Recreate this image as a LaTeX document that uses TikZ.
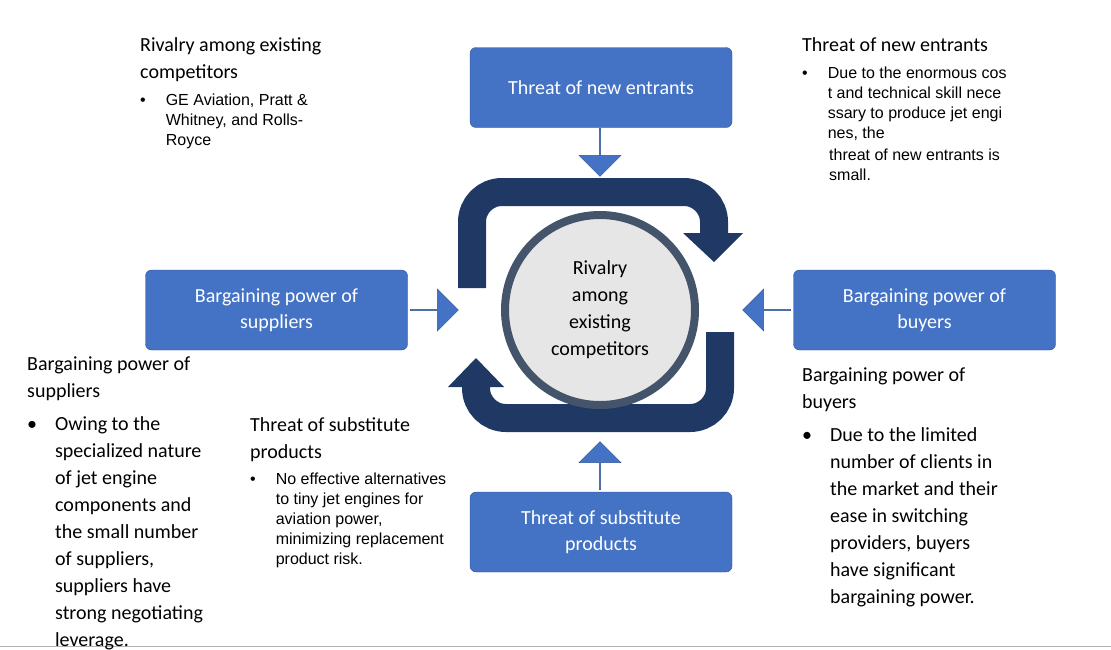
\documentclass[tikz,border=0pt]{standalone}
\usepackage{fontspec}
\setmainfont{Carlito}
\newfontfamily\arialf{Liberation Sans}
\usetikzlibrary{shapes.arrows}
\definecolor{bx}{HTML}{4472C4}
\definecolor{bxd}{HTML}{2F528F}
\definecolor{nv}{HTML}{1F3864}
\definecolor{cg}{HTML}{44546A}
\definecolor{cf}{HTML}{E7E6E6}
\begin{document}
\begin{tikzpicture}[x=1pt,y=-1pt,
 box/.style={draw=bxd,fill=bx,rounded corners=6pt,minimum width=262pt,minimum height=80pt,text=white,font=\fontsize{20}{26}\selectfont,align=center},
 barr/.style={draw=bxd,fill=bx,single arrow,single arrow head extend=6pt,minimum height=48pt,minimum width=42pt,inner sep=0pt,single arrow tip angle=90},
 lbl/.style={anchor=north west,align=left,inner sep=0pt,font=\fontsize{20}{27}\selectfont},
 curv/.style={line width=28pt,draw=nv,rounded corners=30pt}]
\useasboundingbox (0,0) rectangle (1111,649);
\draw[gray!60] (0,646) -- (1111,646);
\node[box] (ne) at (601,87.5) {Threat of new entrants};
\node[box] (sp) at (276.5,310) {Bargaining power of\\suppliers};
\node[box] (by) at (924.5,310) {Bargaining power of\\buyers};
\node[box] (ts) at (601,532) {Threat of substitute\\products};
\node[barr,shape border rotate=270] (a1) at (600,152) {};
\node[barr,shape border rotate=0] (a2) at (434,310) {};
\node[barr,shape border rotate=180] (a3) at (767,310) {};
\node[barr,shape border rotate=90] (a4) at (600,466) {};
\draw[curv] (472,288) -- (472,192) -- (714,192) -- (714,234);
\fill[nv] (683,233) -- (743,233) -- (714,262) -- cycle;
\draw[curv] (720,332) -- (720,418) -- (476,418) -- (476,386);
\fill[nv] (448,387) -- (504,387) -- (476,358) -- cycle;
\node[circle,draw=cg,line width=8pt,fill=cf,minimum size=190pt,align=center,font=\fontsize{20}{27}\selectfont] (c) at (600,310) {Rivalry\\among\\existing\\competitors};
\node[lbl] (t1) at (140,37) {Rivalry among existing\\competitors};
\node[anchor=north west,inner sep=0pt,font=\arialf\fontsize{16}{20}\selectfont] (b1) at (140,91) {\textbullet\hspace{20pt}\begin{tabular}[t]{@{}l@{}}GE Aviation, Pratt \&\\Whitney, and Rolls-\\Royce\end{tabular}};
\node[lbl] (t2) at (802,37) {Threat of new entrants};
\node[anchor=north west,inner sep=0pt,font=\arialf\fontsize{16}{20}\selectfont] (b2) at (802,64) {\textbullet\hspace{20pt}\begin{tabular}[t]{@{}l@{}}Due to the enormous cos\\t and technical skill nece\\ssary to produce jet engi\\nes, the\end{tabular}};
\node[anchor=north west,inner sep=0pt,font=\arialf\fontsize{16}{20}\selectfont] (b2b) at (829,146) {\begin{tabular}[t]{@{}l@{}}threat of new entrants is\\small.\end{tabular}};
\node[lbl] (t3) at (27,357) {Bargaining power of\\suppliers};
\node[anchor=north west,inner sep=0pt,font=\fontsize{20}{27}\selectfont] (b3) at (27,411) {\textbullet\hspace{18pt}\begin{tabular}[t]{@{}l@{}}Owing to the\\specialized nature\\of jet engine\\components and\\the small number\\of suppliers,\\suppliers have\\strong negotiating\\leverage.\end{tabular}};
\node[lbl] (t4) at (250,417) {Threat of substitute\\products};
\node[anchor=north west,inner sep=0pt,font=\arialf\fontsize{16}{20}\selectfont] (b4) at (250,470) {\textbullet\hspace{20pt}\begin{tabular}[t]{@{}l@{}}No effective alternatives\\to tiny jet engines for\\aviation power,\\minimizing replacement\\product risk.\end{tabular}};
\node[lbl] (t5) at (802,368) {Bargaining power of\\buyers};
\node[anchor=north west,inner sep=0pt,font=\fontsize{20}{27}\selectfont] (b5) at (802,422) {\textbullet\hspace{18pt}\begin{tabular}[t]{@{}l@{}}Due to the limited\\number of clients in\\the market and their\\ease in switching\\providers, buyers\\have significant\\bargaining power.\end{tabular}};
\end{tikzpicture}
\end{document}
